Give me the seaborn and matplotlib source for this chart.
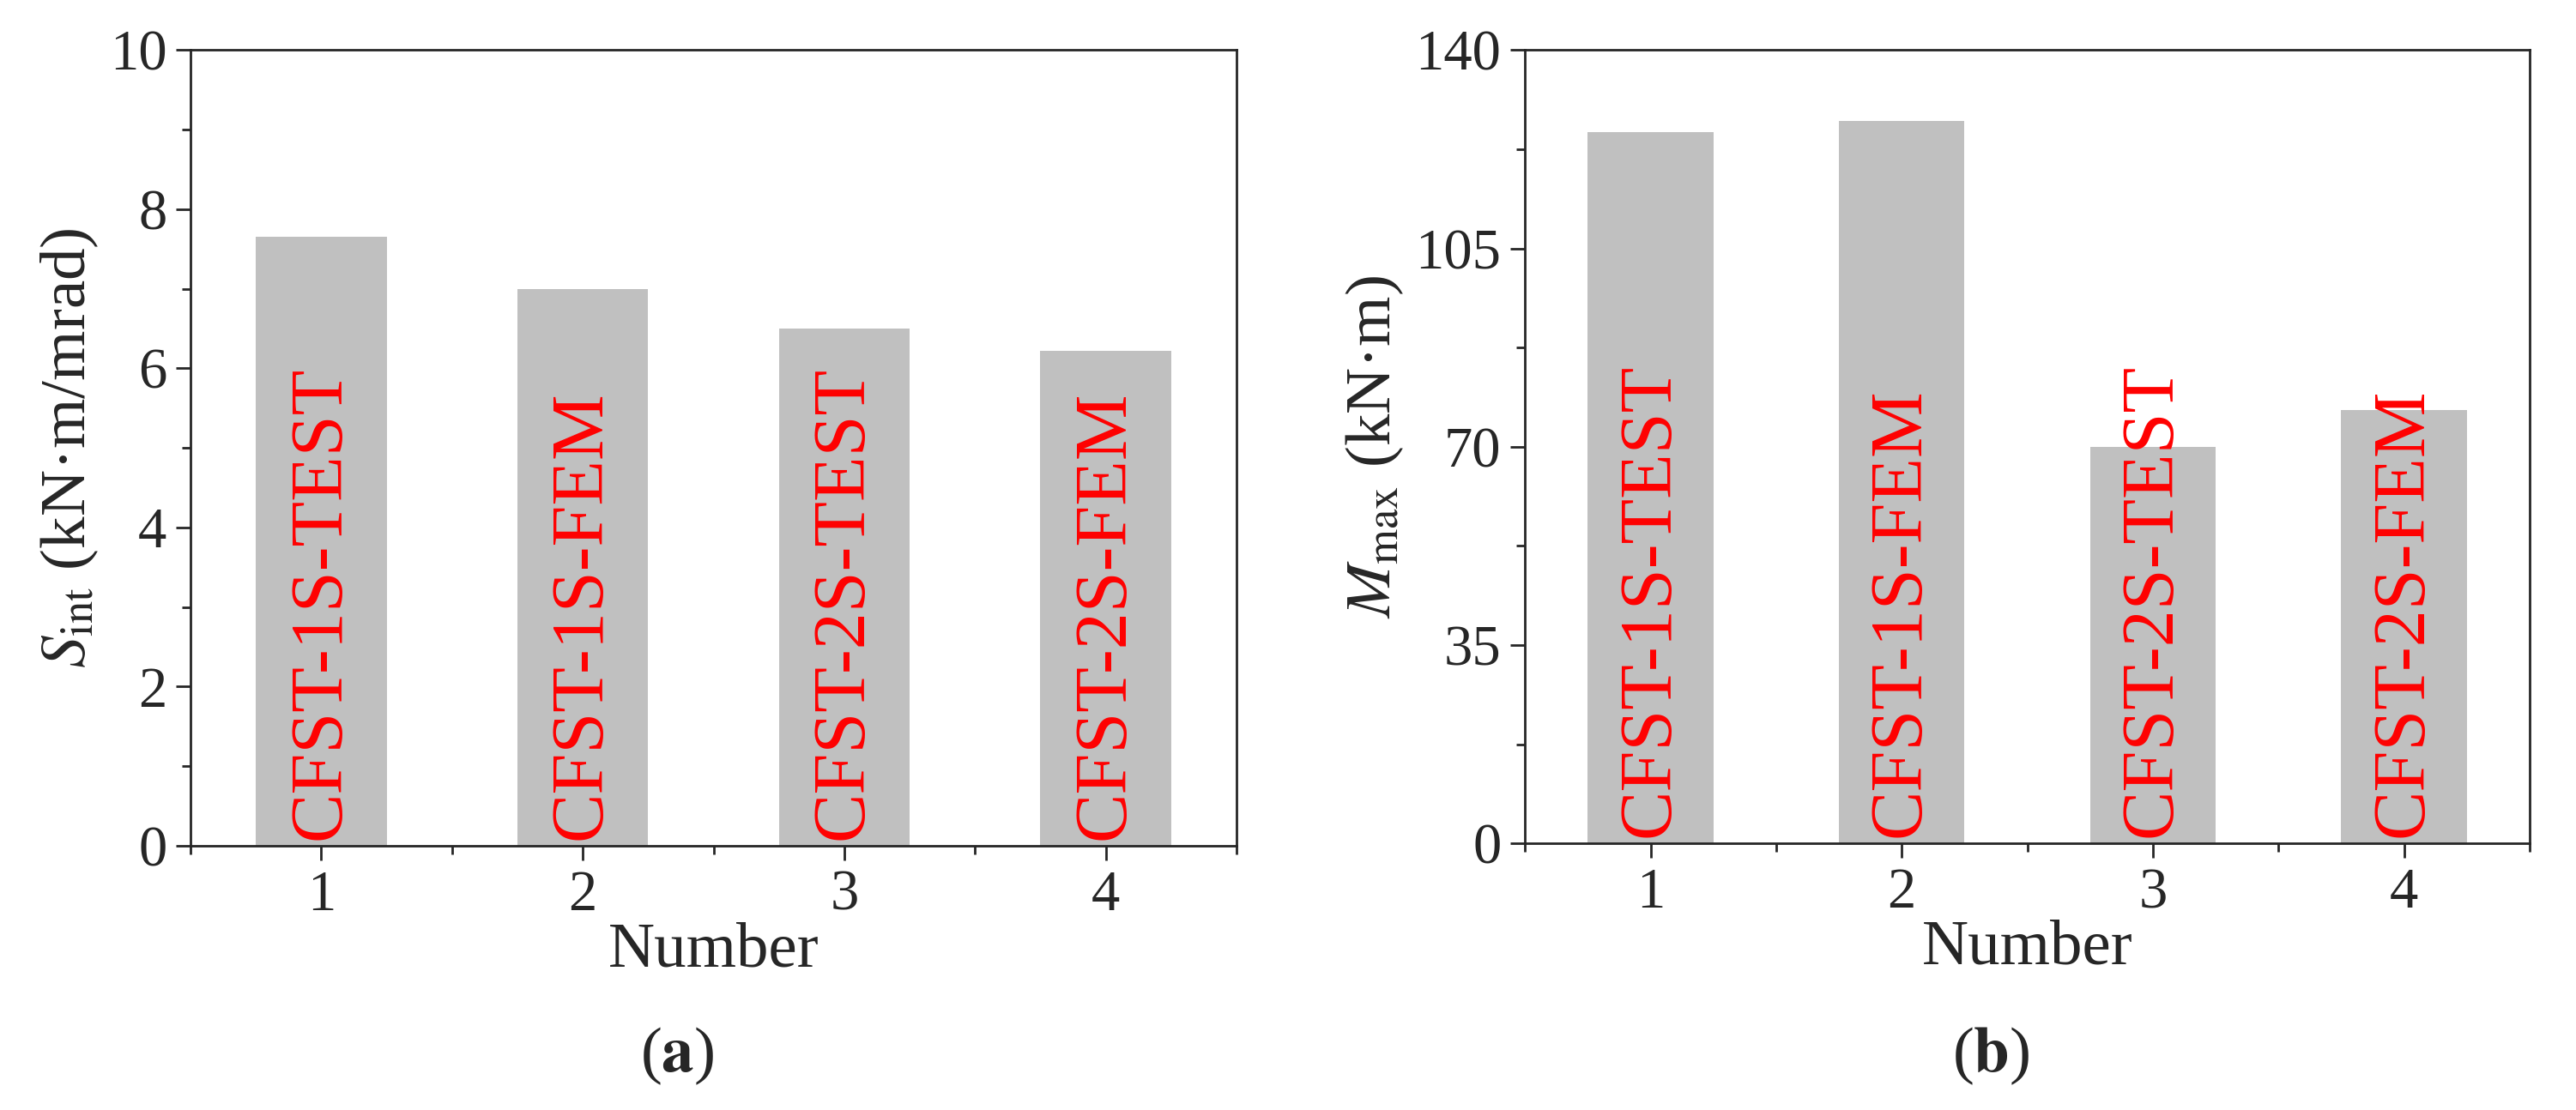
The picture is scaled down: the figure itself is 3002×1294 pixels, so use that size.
import matplotlib
matplotlib.use("Agg")
import matplotlib.pyplot as plt
import seaborn as sns
from matplotlib.ticker import MultipleLocator

numbers = [1, 2, 3, 4]
names = ["CFST-1S-TEST", "CFST-1S-FEM", "CFST-2S-TEST", "CFST-2S-FEM"]
s_int = [7.65, 7.0, 6.5, 6.22]
m_max = [125.5, 127.5, 70.0, 76.5]

sns.set_style("ticks")
plt.rcParams['font.family'] = ['Liberation Serif', 'DejaVu Serif']
plt.rcParams['mathtext.fontset'] = 'stix'

fig = plt.figure(figsize=(30.02, 12.94), dpi=100)
axA = fig.add_axes([0.074, 0.238, 0.406, 0.717])
axB = fig.add_axes([0.592, 0.240, 0.390, 0.715])

def panel(ax, vals, ymax, major, ylabel):
    sns.barplot(x=numbers, y=vals, native_scale=True, width=0.5, color="#c0c0c0",
                saturation=1, ax=ax, edgecolor="none")
    ax.set_xlim(0.5, 4.5)
    ax.set_ylim(0, ymax)
    ax.yaxis.set_major_locator(MultipleLocator(major))
    ax.yaxis.set_minor_locator(MultipleLocator(major / 2))
    ax.xaxis.set_major_locator(MultipleLocator(1))
    ax.xaxis.set_minor_locator(MultipleLocator(0.5))
    ax.tick_params(which='major', direction='out', length=12, width=2, labelsize=48, pad=8)
    ax.tick_params(which='minor', direction='out', length=7, width=2)
    for s in ax.spines.values():
        s.set_visible(True); s.set_linewidth(2)
    ax.set_xlabel("Number", fontsize=54, labelpad=0)
    ax.set_ylabel(ylabel, fontsize=54, labelpad=8)
    for x, n in zip(numbers, names):
        ax.text(x, ymax * 0.008, n, rotation=90, color="red", fontsize=62,
                ha='center', va='bottom')

panel(axA, s_int, 10, 2, r"$S_{\rm int}$ (kN·m/mrad)")
panel(axB, m_max, 140, 35, r"$M_{\rm max}$ (kN·m)")

fig.text(0.263, 0.035, r"($\mathbf{a}$)", fontsize=54, ha='center')
fig.text(0.773, 0.035, r"($\mathbf{b}$)", fontsize=54, ha='center')

fig.savefig("out.png", dpi=100, facecolor="white")
